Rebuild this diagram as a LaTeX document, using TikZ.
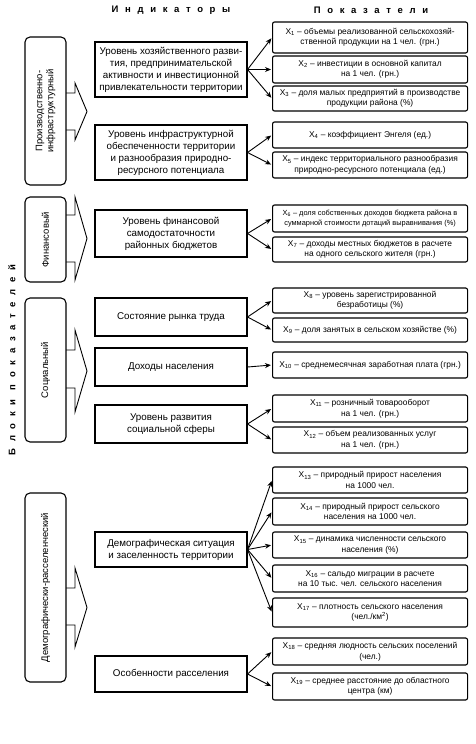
\documentclass[tikz,border=0pt]{standalone}
\usepackage{fontspec}
\setmainfont{Liberation Sans}
\newfontfamily\headfont[LetterSpace=70]{Liberation Sans}
\usetikzlibrary{arrows.meta}

\begin{document}
\begin{tikzpicture}[x=1pt,y=-1pt,
  block/.style={draw,line width=1.1pt,rounded corners=5pt,rotate=90,minimum height=41pt,inner sep=2pt,align=center,font=\fontsize{9.5}{11}\selectfont},
  indic/.style={draw,line width=1.1pt,minimum width=152pt,inner sep=2pt,align=center,font=\fontsize{9.8}{12}\selectfont},
  param/.style={draw,line width=1.1pt,rounded corners=2pt,minimum width=195pt,anchor=west,inner sep=1pt,align=center,font=\fontsize{8.4}{10.5}\selectfont},
  head/.style={font=\headfont\bfseries\fontsize{9.5}{11}\selectfont},
  link/.style={-{Stealth[length=6pt,width=5pt]},line width=0.9pt,shorten >=1pt},
  barrow/.style={line width=0.9pt}]
\useasboundingbox (0,0) rectangle (475,744);

% headings
\node[head] (hind) at (171,10) {Индикаторы};
\node[head] (hpar) at (371,10) {Показатели};
\node[head,rotate=90] (hblk) at (12,360) {Блоки показателей};

% blocks
\node[block,minimum width=148pt] (prod) at (45.5,111) {Производственно-\\инфраструктурный};
\node[block,minimum width=85pt] (fin) at (45.5,239.5) {Финансовый};
\node[block,minimum width=144pt] (soc) at (45.5,370) {Социальный};
\node[block,minimum width=189pt] (dem) at (45.5,587.5) {Демографически-расселенческий};

\draw[barrow] (66,93) -- (75,93) -- (75,83) -- (87,111.5) -- (75,140) -- (75,130) -- (66,130);
\draw[barrow] (66,215) -- (75,215) -- (75,197) -- (87,238.5) -- (75,280) -- (75,262) -- (66,262);
\draw[barrow] (66,350) -- (75,350) -- (75,330) -- (87,371) -- (75,412) -- (75,388) -- (66,388);
\draw[barrow] (66,588) -- (75,588) -- (75,568) -- (87,607.5) -- (75,647) -- (75,625) -- (66,625);

% indicators
\node[indic,minimum height=55pt] (econ) at (171,69.5) {Уровень хозяйственного разви-\\тия, предпринимательской\\активности и инвестиционной\\привлекательности территории};
\node[indic,minimum height=55pt] (infra) at (171,152.5) {Уровень инфраструктурной\\обеспеченности территории\\и разнообразия природно-\\ресурсного потенциала};
\node[indic,minimum height=47pt] (budget) at (171,233.5) {Уровень финансовой\\самодостаточности\\районных бюджетов};
\node[indic,minimum height=38pt] (labour) at (171,317) {Состояние рынка труда};
\node[indic,minimum height=38pt] (income) at (171,367) {Доходы населения};
\node[indic,minimum height=38pt] (sphere) at (171,424) {Уровень развития\\социальной сферы};
\node[indic,minimum height=35pt] (demo) at (171,549.5) {Демографическая ситуация\\и заселенность территории};
\node[indic,minimum height=36pt] (settle) at (171,674) {Особенности расселения};

% parameters
\node[param,minimum height=31pt] (x1) at (272,37.5) {X\textsubscript{1} – объемы реализованной сельскохозяй-\\ственной продукции на 1 чел. (грн.)};
\node[param,minimum height=27pt] (x2) at (272,69.5) {X\textsubscript{2} – инвестиции в основной капитал\\на 1 чел. (грн.)};
\node[param,minimum height=25pt] (x3) at (272,98.5) {X\textsubscript{3} – доля малых предприятий в производстве\\продукции района (\%)};
\node[param,minimum height=26pt] (x4) at (272,135) {X\textsubscript{4} – коэффициент Энгеля (ед.)};
\node[param,minimum height=26pt] (x5) at (272,165) {X\textsubscript{5} – индекс территориального разнообразия\\природно-ресурсного потенциала (ед.)};
\node[param,minimum height=27pt,font=\fontsize{7.4}{9.8}\selectfont] (x6) at (272,218.5) {X\textsubscript{6} – доля собственных доходов бюджета района в\\суммарной стоимости дотаций выравнивания (\%)};
\node[param,minimum height=25pt] (x7) at (272,249.5) {X\textsubscript{7} – доходы местных бюджетов в расчете\\на одного сельского жителя (грн.)};
\node[param,minimum height=25pt] (x8) at (272,300.5) {X\textsubscript{8} – уровень зарегистрированной\\безработицы (\%)};
\node[param,minimum height=24pt] (x9) at (272,330) {X\textsubscript{9} – доля занятых в сельском хозяйстве (\%)};
\node[param,minimum height=26pt] (x10) at (272,365) {X\textsubscript{10} – среднемесячная заработная плата (грн.)};
\node[param,minimum height=27pt] (x11) at (272,408.5) {X\textsubscript{11} – розничный товарооборот\\на 1 чел. (грн.)};
\node[param,minimum height=26pt] (x12) at (272,440) {X\textsubscript{12} – объем реализованных услуг\\на 1 чел. (грн.)};
\node[param,minimum height=26pt] (x13) at (272,480) {X\textsubscript{13} – природный прирост населения\\на 1000 чел.};
\node[param,minimum height=27pt] (x14) at (272,511.5) {X\textsubscript{14} – природный прирост сельского\\населения на 1000 чел.};
\node[param,minimum height=26pt] (x15) at (272,545) {X\textsubscript{15} – динамика численности сельского\\населения (\%)};
\node[param,minimum height=27pt] (x16) at (272,578.5) {X\textsubscript{16} – сальдо миграции в расчете\\на 10 тыс. чел. сельского населения};
\node[param,minimum height=29pt] (x17) at (272,612.5) {X\textsubscript{17} – плотность сельского населения\\(чел./км\textsuperscript{2})};
\node[param,minimum height=27pt] (x18) at (272,651.5) {X\textsubscript{18} – средняя людность сельских поселений\\(чел.)};
\node[param,minimum height=27pt] (x19) at (272,686.5) {X\textsubscript{19} – среднее расстояние до областного\\центра (км)};

\foreach \a/\b in {econ/x1,econ/x2,econ/x3,infra/x4,infra/x5,budget/x6,budget/x7,labour/x8,labour/x9,income/x10,sphere/x11,sphere/x12,demo/x13,demo/x14,demo/x15,demo/x16,demo/x17,settle/x18,settle/x19}
  \draw[link] (\a.east)--(\b.west);
\end{tikzpicture}
\end{document}
